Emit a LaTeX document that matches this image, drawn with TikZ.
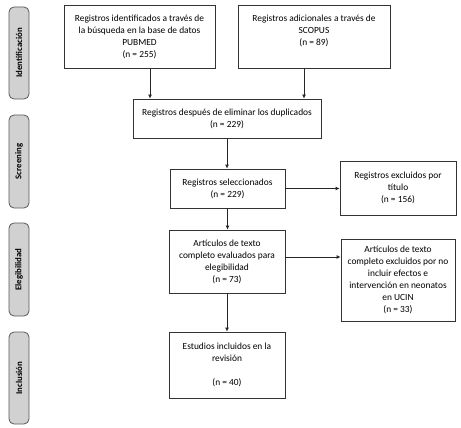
\documentclass[tikz,border=0pt]{standalone}
\usepackage{fontspec}
\setmainfont{Carlito}
\usetikzlibrary{arrows.meta,calc}
\begin{document}
\begin{tikzpicture}[x=1pt,y=-1pt,
  font=\fontsize{9.4}{12}\selectfont,
  box/.style={draw=black!80,line width=0.8pt,align=center,inner sep=2pt},
  phase/.style={draw=black!65,fill=black!18,line width=0.8pt,rounded corners=5pt,
    rotate=90,minimum height=20pt,inner sep=0pt,font=\fontsize{8.8}{12}\selectfont\bfseries},
  arr/.style={-{Latex[length=4pt,width=4pt]},black!85,line width=0.8pt}]
  \useasboundingbox (0,0) rectangle (461,428);
  \node[phase,minimum width=92pt] (tabid) at (19,53) {Identificación};
  \node[phase,minimum width=93pt] (tabscr) at (19,161.5) {Screening};
  \node[phase,minimum width=93pt] (tabeleg) at (19,269.5) {Elegibilidad};
  \node[phase,minimum width=92pt] (tabinc) at (19,378) {Inclusión};
  \node[box,minimum width=151pt,minimum height=63pt] (pubmed) at (139.5,36.5)
    {Registros identificados a través de\\la búsqueda en la base de datos\\PUBMED\\(n = 255)};
  \node[box,minimum width=152pt,minimum height=63pt] (scopus) at (314,36.5)
    {Registros adicionales a través de\\SCOPUS\\(n = 89)\\\mbox{}};
  \node[box,minimum width=188pt,minimum height=39pt] (dupl) at (227,118.5)
    {Registros después de eliminar los duplicados\\(n = 229)};
  \node[box,minimum width=115pt,minimum height=39pt] (selec) at (227.5,188.5)
    {Registros seleccionados\\(n = 229)};
  \node[box,minimum width=116pt,minimum height=54pt] (exctit) at (398,188)
    {Registros excluidos por\\título\\(n = 156)};
  \node[box,minimum width=116pt,minimum height=63pt] (eval) at (227,261.5)
    {Artículos de texto\\completo evaluados para\\elegibilidad\\(n = 73)};
  \node[box,minimum width=114pt,minimum height=82pt] (excno) at (398,280)
    {Artículos de texto\\completo excluidos por no\\incluir efectos e\\intervención en neonatos\\en UCIN\\(n = 33)};
  \node[box,minimum width=116pt,minimum height=66pt] (incl) at (227,365)
    {Estudios incluidos en la\\revisión\\\mbox{}\\(n = 40)};
  \draw[arr] ([xshift=10.5pt]pubmed.south) -- ([xshift=10.5pt]pubmed.south |- dupl.north);
  \draw[arr] ([xshift=-10pt]scopus.south) -- ([xshift=-10pt]scopus.south |- dupl.north);
  \draw[arr] (dupl.south) -- (dupl.south |- selec.north);
  \draw[arr] (selec.south) -- (selec.south |- eval.north);
  \draw[arr] (eval.south) -- (eval.south |- incl.north);
  \draw[arr] (selec.east) -- (selec.east -| exctit.west);
  \draw[arr] ([yshift=4.5pt]eval.east) -- ([yshift=4.5pt]eval.east -| excno.west);
\end{tikzpicture}
\end{document}
